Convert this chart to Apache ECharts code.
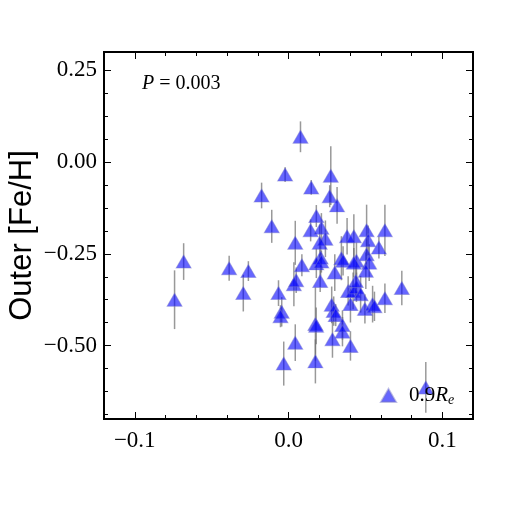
<!DOCTYPE html>
<html>
<head>
<meta charset="utf-8">
<script src="https://cdn.jsdelivr.net/npm/echarts@6/dist/echarts.min.js"></script>
<style>
html, body { margin: 0; padding: 0; background: #fff; }
#chart { width: 525px; height: 525px; }
</style>
</head>
<body>
<div id="chart"></div>
<script>
// gradient (x) and outer [Fe/H] (y) with its error, one entry per galaxy
var gradX = [-0.0741, -0.0682, -0.0386, -0.0261, -0.0294, -0.0175, -0.0109, -0.0022, 0.0078, -0.0065,
	-0.0044, -0.0052, -0.0031, 0.0044, 0.0035, 0.005, 0.0044, 0.0087, 0.0148, 0.0181,
	0.0144, 0.0214, 0.024, 0.0203, 0.0209, 0.0181, 0.0214, 0.0206, 0.0175, 0.018,
	0.0175, 0.0275, 0.0268, 0.0316, 0.0281, 0.0294, 0.0307, 0.0286, 0.0301, 0.0344,
	0.0355, 0.0351, 0.0351, 0.0381, 0.0425, 0.0403, 0.0403, 0.0388, 0.042, 0.0442,
	0.0438, 0.0469, 0.0442, 0.0425, 0.0508, 0.0518, 0.0508, 0.0525, 0.0503, 0.0497,
	0.0547, 0.0559, 0.0588, 0.0627, 0.0627, 0.0737, 0.0893];
var outerFeH = [-0.375, -0.271, -0.289, -0.297, -0.357, -0.091, -0.175, -0.034, 0.069, -0.357,
	-0.408, -0.42, -0.549, -0.492, -0.333, -0.322, -0.22, -0.281, -0.069, -0.147,
	-0.186, -0.179, -0.209, -0.22, -0.26, -0.276, -0.271, -0.324, -0.441, -0.446,
	-0.543, -0.037, -0.093, -0.118, -0.389, -0.406, -0.417, -0.483, -0.301, -0.262,
	-0.269, -0.444, -0.462, -0.202, -0.202, -0.501, -0.387, -0.351, -0.351, -0.341,
	-0.324, -0.36, -0.269, -0.274, -0.186, -0.213, -0.251, -0.274, -0.296, -0.4,
	-0.387, -0.393, -0.233, -0.186, -0.371, -0.343, -0.614];
var outerErr = [0.08, 0.05, 0.034, 0.027, 0.05, 0.035, 0.045, 0.02, 0.042, 0.035,
	0.04, 0.03, 0.06, 0.05, 0.06, 0.035, 0.06, 0.03, 0.02, 0.03,
	0.03, 0.04, 0.05, 0.05, 0.05, 0.04, 0.03, 0.03, 0.1, 0.05,
	0.06, 0.08, 0.03, 0.05, 0.05, 0.04, 0.03, 0.05, 0.05, 0.06,
	0.04, 0.04, 0.04, 0.05, 0.06, 0.04, 0.05, 0.04, 0.05, 0.04,
	0.04, 0.05, 0.05, 0.04, 0.07, 0.04, 0.04, 0.05, 0.05, 0.04,
	0.05, 0.04, 0.03, 0.07, 0.04, 0.047, 0.069];

var xMajorTicks = [-0.1, 0.0, 0.1];
var xMinorTicks = [-0.12, -0.08, -0.06, -0.04, -0.02, 0.02, 0.04, 0.06, 0.08, 0.12];
var yMajorTicks = [0.25, 0.0, -0.25, -0.5];
var yMinorTicks = [0.1875, 0.125, 0.0625, -0.0625, -0.125, -0.1875, -0.3125, -0.375, -0.4375, -0.5625, -0.625, -0.6875];
var seriesName = '0.9Re';
var statText = '{i|P} = 0.003';

var serif = 'Liberation Serif';

function fmtNum(v, d) {
	var s = Math.abs(v).toFixed(d);
	return v < -1e-9 ? '\u2212' + s : s;
}

var points = gradX.map(function(x, i) { return [x, outerFeH[i]]; });
var bars = gradX.map(function(x, i) { return [x, outerFeH[i], outerErr[i]]; });

function makeX(pos, ticks, len, labels) {
	return {
		type: 'value', min: -0.12, max: 0.12, position: pos,
		axisLine: { show: true, onZero: false, lineStyle: { color: '#000', width: 2 } },
		axisTick: { show: true, inside: true, length: len, customValues: ticks, lineStyle: { color: '#000', width: 1 } },
		axisLabel: labels ? {
			show: true, customValues: xMajorTicks, margin: 10,
			fontFamily: serif, fontSize: 23, color: '#000',
			formatter: function(v) { return fmtNum(v, 1); }
		} : { show: false },
		splitLine: { show: false }
	};
}
function makeY(pos, ticks, len, labels) {
	return {
		type: 'value', min: -0.7, max: 0.3, position: pos,
		axisLine: { show: true, onZero: false, lineStyle: { color: '#000', width: 2 } },
		axisTick: { show: true, inside: true, length: len, customValues: ticks, lineStyle: { color: '#000', width: 1 } },
		axisLabel: labels ? {
			show: true, customValues: yMajorTicks, margin: 7,
			fontFamily: serif, fontSize: 23, color: '#000',
			formatter: function(v) { return fmtNum(v, 2); }
		} : { show: false },
		splitLine: { show: false }
	};
}

var chart = echarts.init(document.getElementById('chart'), null, { renderer: 'canvas' });
chart.setOption({
	animation: false,
	backgroundColor: '#fff',
	grid: { left: 104, right: 52, top: 52, bottom: 106, containLabel: false, outerBoundsMode: 'none' },
	xAxis: [
		makeX('bottom', xMajorTicks, 7, true),
		makeX('bottom', xMinorTicks, 4, false),
		makeX('top', xMajorTicks, 7, false),
		makeX('top', xMinorTicks, 4, false)
	],
	yAxis: [
		Object.assign(makeY('left', yMajorTicks, 7, true), {
			name: 'Outer [Fe/H]', nameLocation: 'middle', nameGap: 66, nameMoveOverlap: false,
			nameTextStyle: { fontFamily: 'Liberation Sans', fontSize: 31, color: '#000' }
		}),
		makeY('left', yMinorTicks, 4, false),
		makeY('right', yMajorTicks, 7, false),
		makeY('right', yMinorTicks, 4, false)
	],
	legend: {
		left: 375, top: 380,
		icon: 'triangle', itemWidth: 15, itemHeight: 13, itemGap: 14,
		data: [seriesName],
		formatter: function() { return '{sp|}0.9{i|R}{s|e}'; },
		textStyle: {
			fontFamily: serif, fontSize: 21, color: '#000',
			rich: {
				sp: { width: 8 },
				i: { fontFamily: serif, fontStyle: 'italic', fontSize: 21 },
				s: { fontFamily: serif, fontStyle: 'italic', fontSize: 14, verticalAlign: 'bottom', padding: [10, 0, 0, 0] }
			}
		}
	},
	graphic: [{
		type: 'text', left: 142, top: 74,
		style: {
			text: statText, fill: '#000', font: '20px "Liberation Serif"',
			rich: { i: { fontStyle: 'italic', fontFamily: serif, fontSize: 20 } }
		}
	}],
	series: [{
		type: 'custom',
		xAxisIndex: 0, yAxisIndex: 0,
		data: bars,
		z: 1,
		renderItem: function(params, api) {
			var x = api.value(0), y = api.value(1), e = api.value(2);
			var lo = api.coord([x, y - e]), hi = api.coord([x, y + e]);
			return {
				type: 'line',
				shape: { x1: lo[0], y1: lo[1], x2: hi[0], y2: hi[1] },
				style: { stroke: 'rgba(110,110,110,0.7)', lineWidth: 1.5 }
			};
		}
	}, {
		name: seriesName,
		type: 'scatter',
		xAxisIndex: 0, yAxisIndex: 0,
		data: points,
		z: 2,
		symbol: 'triangle',
		symbolSize: [15, 13],
		itemStyle: { color: 'rgba(0,0,255,0.75)', borderColor: 'rgba(120,120,200,0.6)', borderWidth: 1 }
	}]
});
</script>
</body>
</html>
